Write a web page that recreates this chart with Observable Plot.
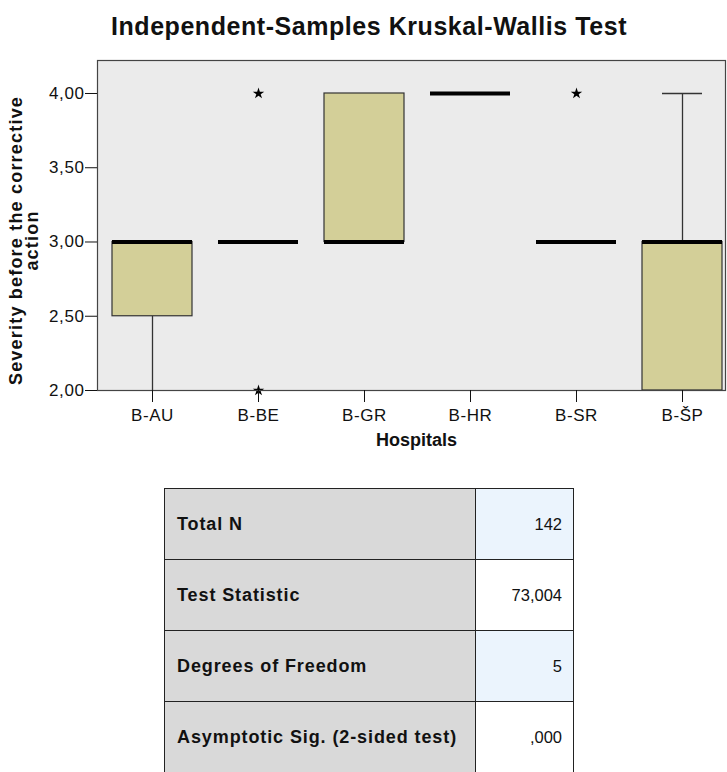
<!DOCTYPE html>
<html>
<head>
<meta charset="utf-8">
<script src="https://cdn.jsdelivr.net/npm/d3@7"></script>
<script src="https://cdn.jsdelivr.net/npm/@observablehq/plot@0.6"></script>
<style>
  html, body { margin: 0; padding: 0; background: #fff; }
  body { width: 727px; height: 772px; position: relative; overflow: hidden; font-family: "Liberation Sans", Arial, sans-serif; }
  #title { position: absolute; left: 111px; top: 14px; font-size: 25px; line-height: 25px; font-weight: bold; letter-spacing: 0.55px; color: #111; white-space: nowrap; }
  #chart { position: absolute; left: 0; top: 50px; }
  #stats { position: absolute; left: 164px; top: 488px; border-collapse: collapse; }
  #stats td { border: 1.5px solid #222; height: 70px; padding: 0; }
  #stats td.lab { width: 298px; padding-left: 12px; background: #d9d9d9; font-weight: bold; font-size: 18px; letter-spacing: 0.9px; color: #111; }
  #stats td.val { width: 86px; padding-right: 11px; text-align: right; font-size: 16.5px; color: #111; }
  #stats tr:nth-child(odd) td.val { background: #ebf4fd; }
  #stats tr:nth-child(even) td.val { background: #ffffff; }
</style>
</head>
<body>
<div id="title">Independent-Samples Kruskal-Wallis Test</div>
<div id="chart"></div>
<table id="stats"></table>
<script>
// ---- data ----
const hospitals   = ["B-AU", "B-BE", "B-GR", "B-HR", "B-SR", "B-ŠP"];
const q1          = [2.5, 3, 3, 4, 3, 2];
const medians     = [3, 3, 3, 4, 3, 3];
const q3          = [3, 3, 4, 4, 3, 3];
const whiskerLow  = [2, 3, 3, 4, 3, 2];
const whiskerHigh = [3, 3, 4, 4, 3, 4];
const extremeHospital = ["B-BE", "B-BE", "B-SR"];
const extremeValue    = [4, 2, 4];
const yTicks = [2, 2.5, 3, 3.5, 4];
const tableLabels = ["Total N", "Test Statistic", "Degrees of Freedom", "Asymptotic Sig. (2-sided test)"];
const tableValues = ["142", "73,004", "5", ",000"];

const boxes = hospitals.map((h, i) => ({h, q1: q1[i], med: medians[i], q3: q3[i], wl: whiskerLow[i], wh: whiskerHigh[i]}));
const extremes = extremeHospital.map((h, i) => ({h, v: extremeValue[i]}));

const chart = Plot.plot({
  width: 727,
  height: 420,
  marginLeft: 97,
  marginRight: 2,
  marginTop: 10,
  marginBottom: 80,
  style: {fontFamily: "'Liberation Sans', Arial, sans-serif", color: "#111", background: "transparent"},
  x: {type: "band", domain: hospitals, range: [97.8, 736.2], paddingInner: 0.25, paddingOuter: 0.125, align: 0.5},
  y: {domain: [2, 4.2222]},
  marks: [
    Plot.frame({fill: "#ebebeb"}),
    Plot.ruleX(boxes.filter(d => d.wl < d.q1), {x: "h", y1: "wl", y2: "q1", stroke: "#333", strokeWidth: 1.3}),
    Plot.ruleX(boxes.filter(d => d.wh > d.q3), {x: "h", y1: "q3", y2: "wh", stroke: "#333", strokeWidth: 1.3}),
    Plot.tickY(boxes.filter(d => d.wh > d.q3), {x: "h", y: "wh", stroke: "#333", strokeWidth: 1.3, inset: 20}),
    Plot.barY(boxes.filter(d => d.q3 > d.q1), {x: "h", y1: "q1", y2: "q3", fill: "#d3cf98", stroke: "#333", strokeWidth: 1.2, inset: 0}),
    Plot.tickY(boxes, {x: "h", y: "med", stroke: "#000", strokeWidth: 4}),
    Plot.dot(extremes, {x: "h", y: "v", symbol: "star", r: 3.6, fill: "#000", stroke: "none"}),
    Plot.frame({stroke: "#444", strokeWidth: 1.2}),
    Plot.axisY({ticks: yTicks, tickFormat: d => d.toFixed(2).replace(".", ","), tickSize: 12, tickPadding: 1, fontSize: 17, label: null}),
    Plot.axisX({tickSize: 12, tickPadding: 6, fontSize: 17, label: null}),
    Plot.text(["Severity before the corrective\naction"], {frameAnchor: "left", dx: -73, dy: 15, rotate: -90, fontSize: 18, fontWeight: "bold", lineHeight: 0.9, textAnchor: "middle", lineAnchor: "middle", fill: "#111"}),
    Plot.text(["Hospitals"], {frameAnchor: "bottom", dx: 5, dy: 43, lineAnchor: "top", fontSize: 18, fontWeight: "bold", fill: "#111"})
  ]
});
document.getElementById("chart").appendChild(chart);

chart.querySelectorAll("text").forEach(t => {
  const s = t.textContent;
  if (s.startsWith("Severity")) t.style.letterSpacing = "1.2px";
  else if (s.startsWith("B-") || s.includes(",")) t.style.letterSpacing = "0.6px";
});

const table = document.getElementById("stats");
tableLabels.forEach((lab, i) => {
  const tr = document.createElement("tr");
  const a = document.createElement("td"); a.className = "lab"; a.textContent = lab;
  const b = document.createElement("td"); b.className = "val"; b.textContent = tableValues[i];
  tr.appendChild(a); tr.appendChild(b); table.appendChild(tr);
});
</script>
</body>
</html>
